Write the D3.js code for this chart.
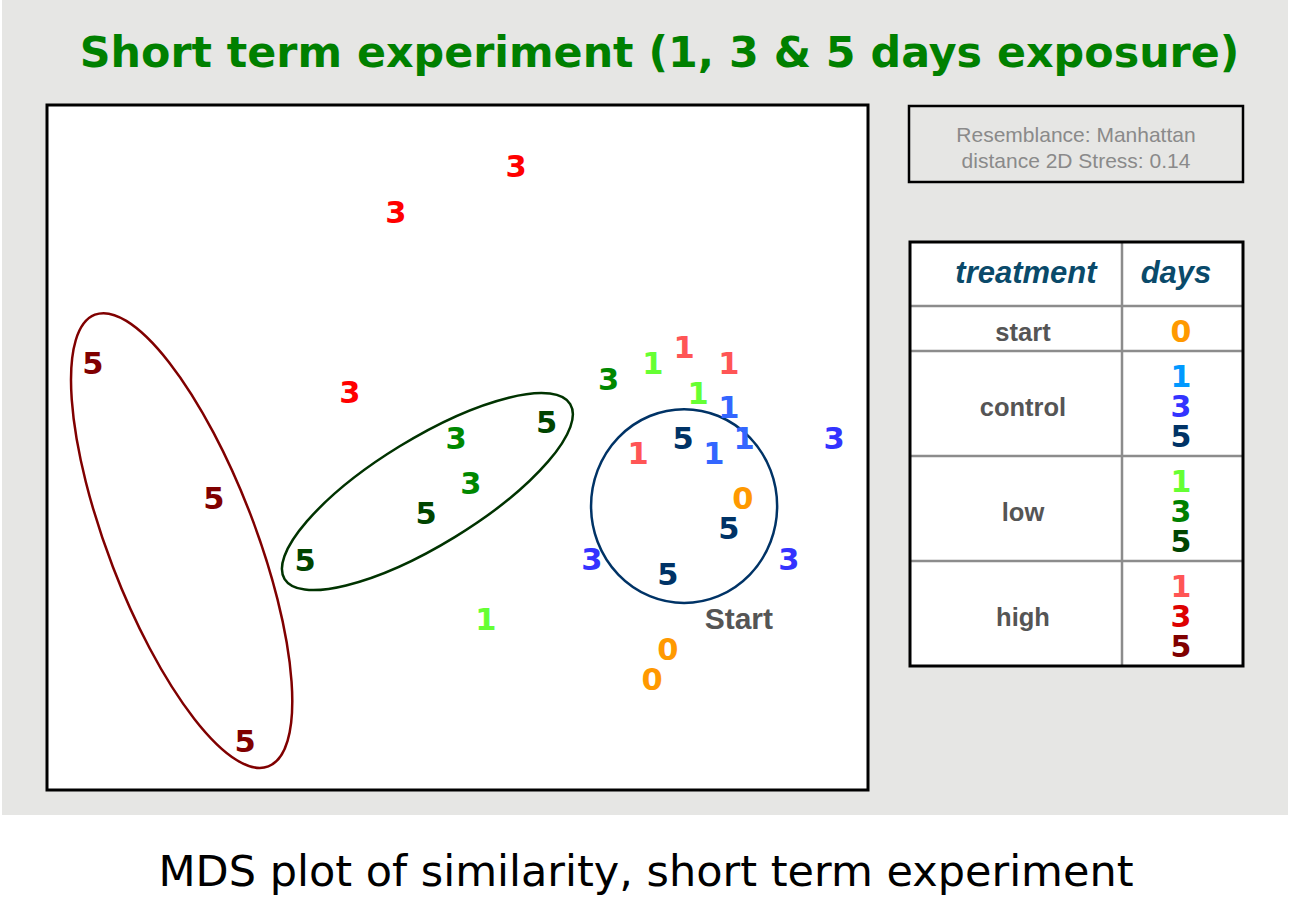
<!DOCTYPE html>
<html><head><meta charset="utf-8">
<script src="https://cdn.jsdelivr.net/npm/d3@7"></script>
<style>body{margin:0;background:#fff}</style>
</head><body><svg id="c" width="1315" height="897"></svg>
<script>
// ---------- data ----------
const titleText = "Short term experiment (1, 3 & 5 days exposure)";
const captionText = "MDS plot of similarity, short term experiment";
const stressLines = ["Resemblance: Manhattan", "distance 2D Stress: 0.14"];

const treatments = ["start", "control", "low", "high"];
const treatmentDays = [[0], [1, 3, 5], [1, 3, 5], [1, 3, 5]];

// MDS coordinates (MDS1, MDS2) per treatment/day
const start0   = [[1.043, -0.185], [0.769, -0.736], [0.711, -0.846]];
const control1 = [[0.992, 0.148], [0.937, -0.020], [1.047, 0.035]];
const control3 = [[1.376, 0.035], [0.491, -0.407], [1.211, -0.407]];
const control5 = [[0.824, 0.035], [0.992, -0.294], [0.769, -0.462]];
const low1     = [[0.714, 0.309], [0.879, 0.199], [0.104, -0.627]];
const low3     = [[0.552, 0.250], [-0.005, 0.035], [0.049, -0.130]];
const low5     = [[0.326, 0.093], [-0.115, -0.239], [-0.557, -0.410]];
const high1    = [[0.828, 0.367], [0.992, 0.309], [0.660, -0.020]];
const high3    = [[0.214, 1.028], [-0.225, 0.860], [-0.393, 0.203]];
const high5    = [[-1.332, 0.310], [-0.890, -0.185], [-0.776, -1.072]];

// group ellipses (centre, semi-axes, rotation in degrees), MDS units
const ellipseHigh5    = [-1.008, -0.340, 0.884, 0.269, -69];
const ellipseLow5     = [-0.110, -0.161, 0.612, 0.194, 31.5];
const ellipseControl5 = [0.828, -0.214, 0.340, 0.354, 0];
const startLabel = [1.028, -0.665];

// ---------- styles ----------
const plotColors = {
  "start-0": "#ff9900",
  "control-1": "#3366ff", "control-3": "#3333ff", "control-5": "#003366",
  "low-1": "#66ff33", "low-3": "#008800", "low-5": "#004400",
  "high-1": "#ff5555", "high-3": "#ff0000", "high-5": "#800000"
};
const legendColors = Object.assign({}, plotColors, {"control-1": "#0099ff", "high-3": "#dd0000", "low-3": "#008000"});

const series = [
  ["start-0", start0], ["control-1", control1], ["control-3", control3], ["control-5", control5],
  ["low-1", low1], ["low-3", low3], ["low-5", low5],
  ["high-1", high1], ["high-3", high3], ["high-5", high5]
];
const ellipses = [
  [ellipseHigh5, "#800000"], [ellipseLow5, "#003300"], [ellipseControl5, "#003366"]
];

const svg = d3.select("#c");
const digitFont = "'DejaVu Sans', Verdana, sans-serif";
const arialFont = "'Liberation Sans', Arial, sans-serif";

// background panel
svg.append("rect").attr("x", 2).attr("y", 0).attr("width", 1286).attr("height", 815).attr("fill", "#e6e6e4");

// title
svg.append("text").attr("x", 659.5).attr("y", 67).attr("text-anchor", "middle")
  .attr("font-family", digitFont).attr("font-weight", "bold").attr("font-size", 42.8)
  .attr("fill", "#008000").text(titleText);

// caption
svg.append("text").attr("x", 646).attr("y", 886).attr("text-anchor", "middle")
  .attr("font-family", digitFont).attr("font-size", 43)
  .attr("fill", "#000").text(captionText);

// plot area
const pL = 47, pR = 868, pT = 105, pB = 790;
const x = d3.scaleLinear().domain([-1.5, 1.5]).range([pL, pR]);
const half = (pB - pT) / (x(1) - x(0)) / 2;
const y = d3.scaleLinear().domain([-half, half]).range([pB, pT]);
const k = x(1) - x(0);

svg.append("rect").attr("x", pL).attr("y", pT).attr("width", pR - pL).attr("height", pB - pT)
  .attr("fill", "#fff").attr("stroke", "#000").attr("stroke-width", 3);

const plot = svg.append("g");
plot.selectAll("ellipse.grp").data(ellipses).join("ellipse")
  .attr("class", "grp")
  .attr("transform", d => `translate(${x(d[0][0])},${y(d[0][1])}) rotate(${-d[0][4]})`)
  .attr("rx", d => d[0][2] * k).attr("ry", d => d[0][3] * k)
  .attr("fill", "none").attr("stroke", d => d[1]).attr("stroke-width", 2.5);

const pts = series.flatMap(([key, arr]) => arr.map(p => ({key, day: key.split("-")[1], x: p[0], y: p[1]})));
plot.selectAll("text.pt").data(pts).join("text")
  .attr("class", "pt")
  .attr("x", d => x(d.x)).attr("y", d => y(d.y)).attr("dy", "0.36em")
  .attr("text-anchor", "middle")
  .attr("font-family", digitFont).attr("font-weight", "bold").attr("font-size", 30.5)
  .attr("fill", d => plotColors[d.key]).text(d => d.day);

plot.append("text").attr("x", x(startLabel[0])).attr("y", y(startLabel[1]))
  .attr("text-anchor", "middle").attr("font-family", arialFont).attr("font-weight", "bold")
  .attr("font-size", 30).attr("fill", "#555").text("Start");

// stress box
const sb = {x: 909, y: 106, w: 334, h: 76};
svg.append("rect").attr("x", sb.x).attr("y", sb.y).attr("width", sb.w).attr("height", sb.h)
  .attr("fill", "#e6e6e4").attr("stroke", "#000").attr("stroke-width", 2.5);
svg.selectAll("text.stress").data(stressLines).join("text").attr("class", "stress")
  .attr("x", sb.x + sb.w / 2).attr("y", (d, i) => 142 + i * 26).attr("text-anchor", "middle")
  .attr("font-family", arialFont).attr("font-size", 21).attr("fill", "#8a8a8a").text(d => d);

// legend table
const tb = {x: 910, y: 242, w: 333, col: 1122, header: 64};
const rowH = treatmentDays.map(d => 15 + 30 * d.length);
const rowTop = [];
let acc = tb.y + tb.header;
rowH.forEach(h => { rowTop.push(acc); acc += h; });
const tBottom = acc;
const lg = svg.append("g");
lg.append("rect").attr("x", tb.x).attr("y", tb.y).attr("width", tb.w).attr("height", tBottom - tb.y).attr("fill", "#fff");
// inner grid
lg.selectAll("line.h").data(rowTop).join("line").attr("class", "h")
  .attr("x1", tb.x).attr("x2", tb.x + tb.w).attr("y1", d => d).attr("y2", d => d)
  .attr("stroke", "#8c8c8c").attr("stroke-width", 2.5);
lg.append("line").attr("x1", tb.col).attr("x2", tb.col).attr("y1", tb.y).attr("y2", tBottom)
  .attr("stroke", "#8c8c8c").attr("stroke-width", 2.5);
lg.append("rect").attr("x", tb.x).attr("y", tb.y).attr("width", tb.w).attr("height", tBottom - tb.y)
  .attr("fill", "none").attr("stroke", "#000").attr("stroke-width", 3);
// header
lg.selectAll("text.hd").data([["treatment", 1026], ["days", 1176]]).join("text").attr("class", "hd")
  .attr("x", d => d[1]).attr("y", 283).attr("text-anchor", "middle")
  .attr("font-family", arialFont).attr("font-weight", "bold").attr("font-style", "italic")
  .attr("font-size", 31).attr("fill", "#0a4a6a").text(d => d[0]);
// rows
treatments.forEach((t, i) => {
  const cy = rowTop[i] + rowH[i] / 2 + 3;
  lg.append("text").attr("x", 1023).attr("y", cy).attr("dy", "0.36em").attr("text-anchor", "middle")
    .attr("font-family", arialFont).attr("font-weight", "bold").attr("font-size", 25.5)
    .attr("fill", "#555").text(t);
  const n = treatmentDays[i].length;
  lg.selectAll(null).data(treatmentDays[i]).join("text")
    .attr("x", 1181).attr("y", (d, j) => cy + (j - (n - 1) / 2) * 30).attr("dy", "0.36em")
    .attr("text-anchor", "middle").attr("font-family", digitFont).attr("font-weight", "bold")
    .attr("font-size", 30).attr("fill", d => legendColors[t + "-" + d]).text(d => d);
});
</script></body></html>
